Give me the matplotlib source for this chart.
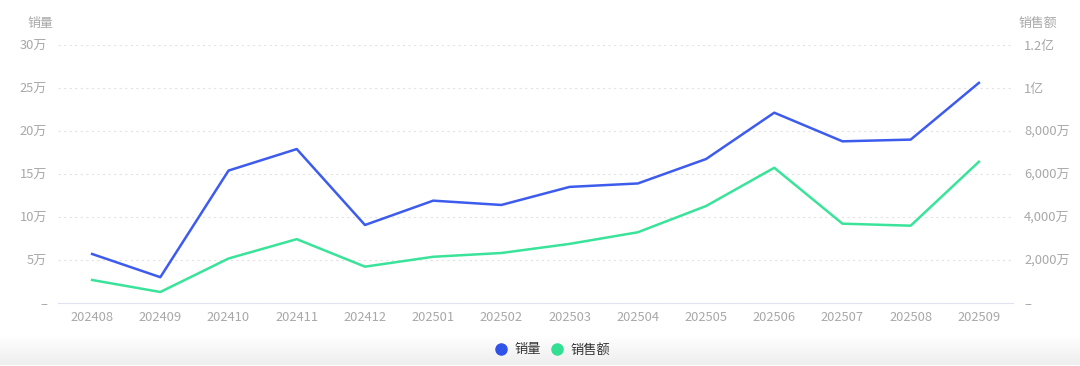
import matplotlib.pyplot as plt
import numpy as np

plt.rcParams['font.family'] = ['Noto Sans CJK SC', 'DejaVu Sans']
plt.rcParams['axes.unicode_minus'] = False

# 月份
months = ["202408", "202409", "202410", "202411", "202412", "202501", "202502",
          "202503", "202504", "202505", "202506", "202507", "202508", "202509"]
# 销量（万）
sales_qty = [5.7, 3.0, 15.4, 17.9, 9.07, 11.9, 11.4, 13.5, 13.9, 16.74, 22.13, 18.8, 19.0, 25.6]
# 销售额（万元）
sales_amt = [1070, 512, 2070, 2970, 1690, 2150, 2326, 2750, 3290, 4510, 6290, 3690, 3596, 6570]

left_ticks = [0, 5, 10, 15, 20, 25, 30]
left_labels = ["–", "5万", "10万", "15万", "20万", "25万", "30万"]
right_ticks = [0, 2000, 4000, 6000, 8000, 10000, 12000]
right_labels = ["–", "2,000万", "4,000万", "6,000万", "8,000万", "1亿", "1.2亿"]

blue = '#3d5ced'
green = '#3ae39a'
tick_color = '#a8a8a8'

fig = plt.figure(figsize=(10.8, 3.66), dpi=100)

# 底部灰色渐变
bg = fig.add_axes([0, 0, 1, 1], zorder=-10)
grad = np.ones((366, 1))
for r in range(366):
    if 333 <= r <= 364:
        grad[r, 0] = 1 - 0.07 * (r - 333) / 31
bg.imshow(grad, aspect='auto', cmap='gray', vmin=0, vmax=1, extent=[0, 1, 0, 1], origin='upper')
bg.axis('off')

ax = fig.add_axes([58 / 1080, 1 - 303 / 366, 955 / 1080, 258 / 366])
ax.patch.set_alpha(0)
x = np.arange(len(months))
ax.plot(x, sales_qty, color=blue, lw=1.8, label="销量", zorder=3)
ax.set_xlim(-0.5, len(months) - 0.5)
ax.set_ylim(0, 30)
ax.set_yticks(left_ticks)
ax.set_yticklabels(left_labels)
ax.set_xticks(x)
ax.set_xticklabels(months)
ax.grid(axis='y', linestyle=(0, (2, 3)), color='#e3e3e3', lw=0.8)
for s in ['top', 'right', 'left']:
    ax.spines[s].set_visible(False)
ax.spines['bottom'].set_color('#dfe4ee')
ax.tick_params(length=0, labelsize=9.3, colors=tick_color, pad=6)
ax.tick_params(axis='y', pad=8)

ax2 = ax.twinx()
ax2.plot(x, sales_amt, color=green, lw=1.8, label="销售额", zorder=3)
ax2.set_ylim(0, 12000)
ax2.set_yticks(right_ticks)
ax2.set_yticklabels(right_labels)
for s in ['top', 'right', 'left', 'bottom']:
    ax2.spines[s].set_visible(False)
ax2.tick_params(length=0, labelsize=9.3, colors=tick_color, pad=8)

fig.text(40 / 1080, 1 - 23 / 366, "销量", fontsize=9.3, color=tick_color, ha='center', va='center')
fig.text(1038 / 1080, 1 - 23 / 366, "销售额", fontsize=9.3, color=tick_color, ha='center', va='center')

# 图例
h1 = plt.Line2D([], [], marker='o', linestyle='', color='#2f52e8', markersize=8)
h2 = plt.Line2D([], [], marker='o', linestyle='', color='#33df93', markersize=8)
fig.legend([h1, h2], ["销量", "销售额"], loc='center', bbox_to_anchor=(553 / 1080, 1 - 350 / 366),
           ncol=2, frameon=False, fontsize=9.5, handletextpad=0.6, columnspacing=0.8,
           handlelength=0.8, labelcolor='#333333')

fig.savefig("out.png", dpi=100)
